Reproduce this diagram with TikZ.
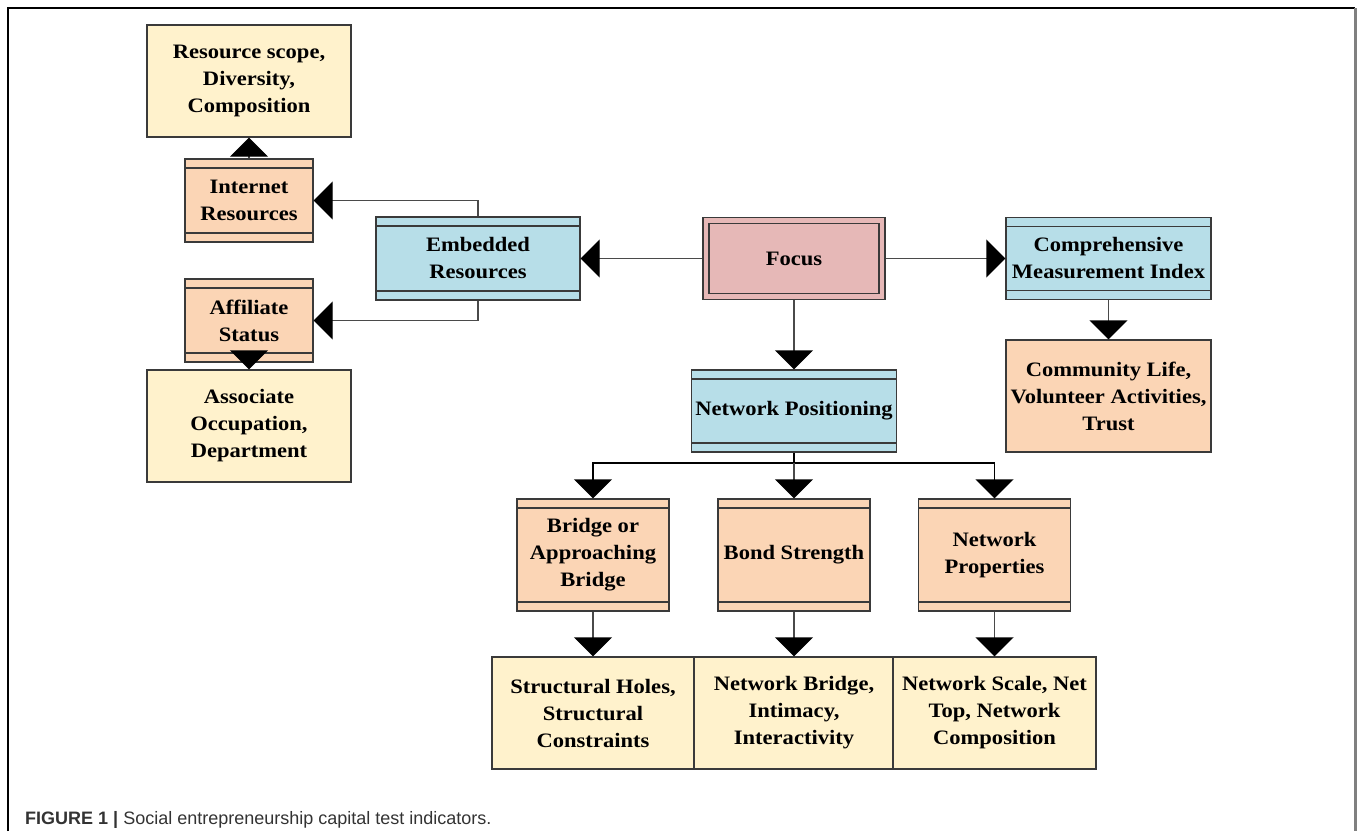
\documentclass[tikz,border=0pt]{standalone}
\usepackage{fontspec}
\setmainfont{Liberation Serif}[FakeStretch=1.1]
\newfontfamily\capfont{Liberation Sans}
\usetikzlibrary{arrows.meta}
\definecolor{cyellow}{HTML}{FFF2CC}
\definecolor{csalmon}{HTML}{FBD5B5}
\definecolor{cblue}{HTML}{B7DEE8}
\definecolor{cpink}{HTML}{E6B8B7}
\definecolor{cborder}{HTML}{3A3A3A}
\definecolor{cline}{HTML}{4A4A4A}
\definecolor{ccap}{HTML}{333333}
\tikzset{
  base/.style={draw=cborder, line width=1.3pt, align=center, inner sep=2pt,
    font=\fontsize{20.5}{27}\selectfont\bfseries, text=black},
  plainbox/.style={base, minimum height=112pt},
  bandbox/.style={base, path picture={
      \draw[cborder, line width=1.3pt] ([yshift=-9pt]path picture bounding box.north west) -- ([yshift=-9pt]path picture bounding box.north east);
      \draw[cborder, line width=1.3pt] ([yshift=9pt]path picture bounding box.south west) -- ([yshift=9pt]path picture bounding box.south east);
    }},
  focusbox/.style={base, path picture={
      \draw[cborder, line width=1.3pt] ([shift={(6pt,-6pt)}]path picture bounding box.north west) rectangle ([shift={(-6pt,6pt)}]path picture bounding box.south east);
    }},
  arr/.style={draw=cline, line width=1.3pt, -{Triangle[length=19pt,width=38pt,color=black]}},
  conn/.style={draw=cline, line width=1.3pt}
}
\begin{document}
\begin{tikzpicture}[x=1pt,y=-1pt]
\useasboundingbox (0,0) rectangle (1357,831);
% frame
\draw[black, line width=1.2pt] (8,831) -- (8,8) -- (1355,8);
\draw[gray, line width=3pt] (1355.5,8) -- (1355.5,831);

% nodes
\node[plainbox, fill=cyellow, minimum width=204pt] (rs) at (249,81) {Resource scope,\\Diversity,\\Composition};
\node[bandbox, fill=csalmon, minimum width=128pt, minimum height=83pt] (ir) at (249,200.5) {Internet\\Resources};
\node[bandbox, fill=csalmon, minimum width=128pt, minimum height=83pt] (af) at (249,320.5) {Affiliate\\Status};
\node[plainbox, fill=cyellow, minimum width=204pt] (as) at (249,426) {Associate\\Occupation,\\Department};
\node[bandbox, fill=cblue, minimum width=204pt, minimum height=83pt] (er) at (478,258.5) {Embedded\\Resources};
\node[focusbox, fill=cpink, minimum width=182pt, minimum height=82pt] (fo) at (794,258.5) {Focus};
\node[bandbox, fill=cblue, minimum width=205pt, minimum height=82pt] (cm) at (1108.5,258.5) {Comprehensive\\Measurement Index};
\node[plainbox, fill=csalmon, minimum width=205pt] (cl) at (1108.5,396) {Community Life,\\Volunteer Activities,\\Trust};
\node[bandbox, fill=cblue, minimum width=205pt, minimum height=82pt] (np) at (794,411) {Network Positioning};
\node[bandbox, fill=csalmon, minimum width=152pt, minimum height=112pt] (b1) at (593,555) {Bridge or\\Approaching\\Bridge};
\node[bandbox, fill=csalmon, minimum width=152pt, minimum height=112pt] (b2) at (794,555) {Bond Strength};
\node[bandbox, fill=csalmon, minimum width=152pt, minimum height=112pt] (b3) at (994.5,555) {Network\\Properties};
\node[plainbox, fill=cyellow, minimum width=202pt] (d1) at (593,713) {Structural Holes,\\Structural\\Constraints};
\node[plainbox, fill=cyellow, minimum width=200pt] (d2) at (794,713) {Network Bridge,\\Intimacy,\\Interactivity};
\node[plainbox, fill=cyellow, minimum width=203pt] (d3) at (994.5,713) {Network Scale, Net\\Top, Network\\Composition};

% connectors
\draw[arr] (fo.west) -- (er.east);
\draw[arr] (fo.east) -- (cm.west);
\draw[arr] (fo.south) -- (np.north);
\draw[arr] (er.north) |- (ir.east);
\draw[arr] (er.south) |- (af.east);
\draw[arr] (ir.north) -- (rs.south);
\draw[arr] (af.south) -- (as.north);
\draw[arr] (cm.south) -- (cl.north);
\coordinate (j) at (794,463);
\draw[conn, draw=black] (np.south) -- (j);
\draw[arr, draw=black] (j) -| (b1.north);
\draw[arr, draw=black] (j) -| (b3.north);
\draw[arr] (j) -- (b2.north);
\draw[arr] (b1.south) -- (d1.north);
\draw[arr] (b2.south) -- (d2.north);
\draw[arr] (b3.south) -- (d3.north);

% caption
\node[anchor=base west, inner sep=0pt, text=ccap, font=\capfont\fontsize{18}{21}\selectfont] (cap) at (25,824) {\textbf{FIGURE 1 |} Social entrepreneurship capital test indicators.};
\end{tikzpicture}
\end{document}
